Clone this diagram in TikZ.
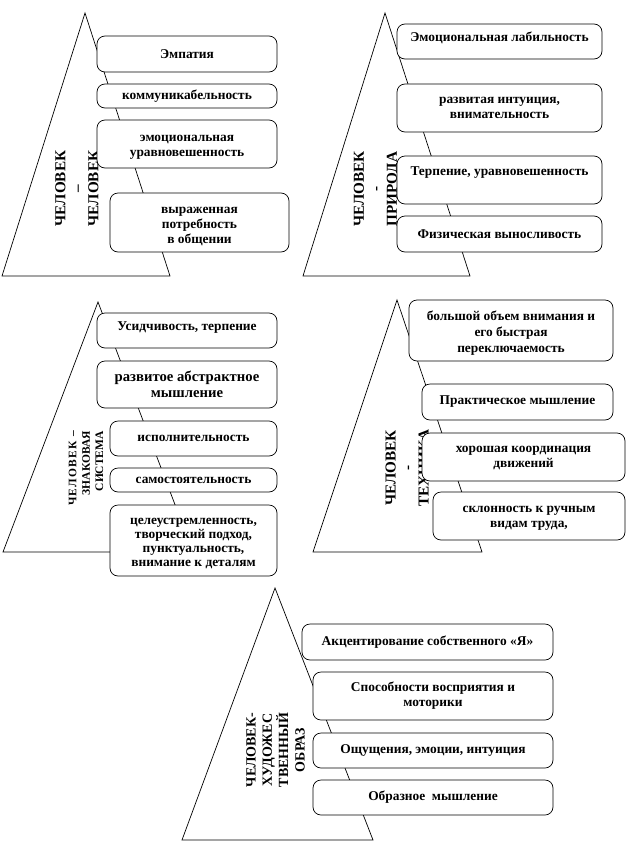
\documentclass[tikz,border=0pt]{standalone}
\usepackage{fontspec}
\setmainfont{Liberation Serif}
\newcommand\vpushline[1]{\rule{0pt}{#1}}
\begin{document}
\begin{tikzpicture}[x=1pt,y=-1pt,
  tri/.style={draw, line width=0.7pt},
  bx/.style={draw, line width=0.7pt, rounded corners=8pt, fill=white, align=center, inner sep=0pt,
    font=\bfseries\fontsize{13.4}{15}\selectfont},
  vt/.style={rotate=90, align=center, inner sep=0pt,
    font=\bfseries\fontsize{15.2}{16.5}\selectfont},
  up/.style={text height=9.5pt, text depth=#1}]
\useasboundingbox (0,0) rectangle (626,841);

% ---------- Panel 1: Человек - человек
\draw[tri] (85,13) -- (170,276) -- (2,276) -- cycle;
\node[vt] (v1) at (77,188.5) {ЧЕЛОВЕК\\–\\ЧЕЛОВЕК};
\node[bx, minimum width=180pt, minimum height=36pt] (b11) at (187,54) {Эмпатия};
\node[bx, minimum width=180pt, minimum height=24pt] (b12) at (187,96) {коммуникабельность};
\node[bx, minimum width=180pt, minimum height=48pt] (b13) at (187,144) {\vpushline{12.3pt}эмоциональная\\уравновешенность};
\node[bx, minimum width=179pt, minimum height=59pt] (b14) at (199.5,222.5) {\vpushline{15.3pt}выраженная\\потребность\\в общении};

% ---------- Panel 2: Человек - природа
\draw[tri] (385,13) -- (470,276) -- (303,276) -- cycle;
\node[vt] (v2) at (377,189) {ЧЕЛОВЕК\\-\\ПРИРОДА};
\node[bx, up=9.5pt, minimum width=205pt, minimum height=35pt] (b21) at (499.5,41.5) {Эмоциональная лабильность};
\node[bx, minimum width=205pt, minimum height=48pt] (b22) at (499.5,108) {развитая интуиция,\\внимательность};
\node[bx, up=19pt, minimum width=205pt, minimum height=48pt] (b23) at (499.5,180) {Терпение, уравновешенность};
\node[bx, minimum width=205pt, minimum height=36pt] (b24) at (499.5,234) {Физическая выносливость};

% ---------- Panel 3: Человек - знаковая система
\draw[tri] (98,302) -- (193,552) -- (3,552) -- cycle;
\node[vt, anchor=east, align=right,
  font=\bfseries\fontsize{11.5}{13.3}\selectfont] (v3) at (86,431)
  {{\addfontfeature{LetterSpace=11}ЧЕЛОВЕК –}\\ЗНАКОВАЯ\\СИСТЕМА};
\node[bx, up=9.5pt, minimum width=180pt, minimum height=35pt] (b31) at (187,330.5) {Усидчивость, терпение};
\node[bx, minimum width=180pt, minimum height=47pt, font=\bfseries\fontsize{14.7}{15.5}\selectfont] (b32) at (187,384.5) {развитое абстрактное\\мышление};
\node[bx, minimum width=167pt, minimum height=35pt] (b33) at (193.5,438.5) {исполнительность};
\node[bx, minimum width=167pt, minimum height=24pt] (b34) at (193.5,480) {самостоятельность};
\node[bx, minimum width=167pt, minimum height=71pt, font=\bfseries\fontsize{13.4}{14.3}\selectfont] (b35) at (193.5,540.5) {\vpushline{12.3pt}целеустремленность,\\творческий подход,\\пунктуальность,\\внимание к деталям};

% ---------- Panel 4: Человек - техника
\draw[tri] (397,300) -- (482,552) -- (313,552) -- cycle;
\node[vt] (v4) at (407,468) {ЧЕЛОВЕК\\-\\ТЕХНИКА};
\node[bx, minimum width=204pt, minimum height=61pt, font=\bfseries\fontsize{13.4}{15.8}\selectfont] (b41) at (511,330.5) {\vpushline{14.3pt}большой объем внимания и\\его быстрая\\переключаемость};
\node[bx, minimum width=191pt, minimum height=36pt] (b42) at (517.5,402) {Практическое мышление};
\node[bx, minimum width=203pt, minimum height=48pt] (b43) at (523.5,457) {\vpushline{9.3pt}хорошая координация\\движений};
\node[bx, minimum width=192pt, minimum height=48pt] (b44) at (529,516) {\vpushline{10.3pt}склонность к ручным\\видам труда,};

% ---------- Panel 5: Человек - художественный образ
\draw[tri] (275,588) -- (373,840) -- (182,840) -- cycle;
\node[vt, font=\bfseries\fontsize{14}{16.3}\selectfont] (v5) at (275.5,750) {ЧЕЛОВЕК-\\ХУДОЖЕС\\ТВЕННЫЙ\\ОБРАЗ};
\node[bx, minimum width=251pt, minimum height=36pt] (b51) at (427.5,642) {Акцентирование собственного «Я»};
\node[bx, minimum width=240pt, minimum height=48pt] (b52) at (433,696) {Способности восприятия и\\моторики};
\node[bx, minimum width=240pt, minimum height=35pt] (b53) at (433,750.5) {Ощущения, эмоции, интуиция};
\node[bx, minimum width=240pt, minimum height=35pt] (b54) at (433,797.5) {Образное\ \ мышление};
\end{tikzpicture}
\end{document}
